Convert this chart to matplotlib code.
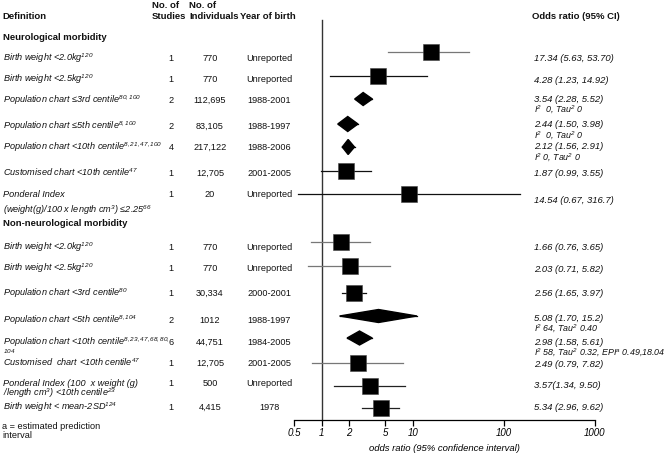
import matplotlib
matplotlib.use('Agg')
import matplotlib.pyplot as plt
from matplotlib.transforms import blended_transform_factory
from matplotlib.patches import Polygon

plt.rcParams['font.family'] = ['Liberation Sans', 'DejaVu Sans']
plt.rcParams['mathtext.fontset'] = 'custom'
plt.rcParams['mathtext.rm'] = 'Liberation Sans:italic'
plt.rcParams['mathtext.it'] = 'Liberation Sans:italic'
plt.rcParams['mathtext.bf'] = 'Liberation Sans:bold'

W, H = 668, 457

# ---------------- data ----------------
section_titles = ["Neurological morbidity", "Non-neurological morbidity"]

definitions = [
    "Birth weight <2.0kg$^{120}$",
    "Birth weight <2.5kg$^{120}$",
    "Population chart ≤3rd centile$^{80,100}$",
    "Population chart ≤5th centile$^{8,100}$",
    "Population chart <10th centile$^{8,21,47,100}$",
    "Customised chart <10th centile$^{47}$",
    "Ponderal Index",
    "Birth weight <2.0kg$^{120}$",
    "Birth weight <2.5kg$^{120}$",
    "Population chart <3rd centile$^{80}$",
    "Population chart <5th centile$^{8,104}$",
    "Population chart <10th centile$^{8,23,47,68,80,}$",
    "Customised  chart <10th centile$^{47}$",
    "Ponderal Index (100  x weight (g)",
    "Birth weight < mean-2SD$^{124}$",
]
definitions_line2 = ["", "", "", "", "", "",
                     "(weight(g)/100 x length cm$^{3}$) ≤2.25$^{66}$",
                     "", "", "", "", "$^{104}$", "",
                     "/length cm$^{3}$) <10th centile$^{23}$", ""]

studies = ["1", "1", "2", "2", "4", "1", "1",
           "1", "1", "1", "2", "6", "1", "1", "1"]
individuals = ["770", "770", "112,695", "83,105", "217,122", "12,705", "20",
               "770", "770", "30,334", "1012", "44,751", "12,705", "500", "4,415"]
years = ["Unreported", "Unreported", "1988-2001", "1988-1997", "1988-2006",
         "2001-2005", "Unreported", "Unreported", "Unreported", "2000-2001",
         "1988-1997", "1984-2005", "2001-2005", "Unreported", "1978"]

or_labels = ["17.34 (5.63, 53.70)", "4.28 (1.23, 14.92)", "3.54 (2.28, 5.52)",
             "2.44 (1.50, 3.98)", "2.12 (1.56, 2.91)", "1.87 (0.99, 3.55)",
             "14.54 (0.67, 316.7)", "1.66 (0.76, 3.65)", "2.03 (0.71, 5.82)",
             "2.56 (1.65, 3.97)", "5.08 (1.70, 15.2)", "2.98 (1.58, 5.61)",
             "2.49 (0.79, 7.82)", "3.57(1.34, 9.50)", "5.34 (2.96, 9.62)"]
het_labels = ["", "", "I$^{2}$  0, Tau$^{2}$ 0", "I$^{2}$  0, Tau$^{2}$ 0",
              "I$^{2}$ 0, Tau$^{2}$ 0", "", "", "", "", "",
              "I$^{2}$ 64, Tau$^{2}$ 0.40",
              "I$^{2}$ 58, Tau$^{2}$ 0.32, EPI$^{a}$ 0.49,18.04", "", "", ""]

# plotted estimates as drawn in the picture
est = [16.0, 4.2, 2.85, 1.93, 1.95, 1.85, 9.06, 1.61, 2.02, 2.27, 4.2, 2.6, 2.49, 3.35, 4.5]
lo = [5.3, 1.22, 2.3, 1.5, 1.68, 0.99, 0.545, 0.76, 0.71, 1.66, 1.57, 1.9, 0.78, 1.35, 2.75]
hi = [41.4, 14.3, 3.6, 2.5, 2.29, 3.5, 149.6, 3.35, 5.56, 3.08, 11.1, 3.58, 7.9, 8.3, 6.98]
kind = ['sq', 'sq', 'dia', 'dia', 'dia', 'sq', 'sq',
        'sq', 'sq', 'sq', 'dia', 'dia', 'sq', 'sq', 'sq']

xticks = [0.5, 1, 2, 5, 10, 100, 1000]
xticklabels = ["0.5", "1", "2", "5", "10", "100", "1000"]
xlabel = "odds ratio (95% confidence interval)"
footnote = "a = estimated prediction\ninterval"

# ---------------- layout (pixel rows) ----------------
y_sections = [37, 223]
y_row = [58, 79, 100, 126, 147, 173, 194, 247, 268, 293, 320, 342, 363, 383, 407]
y_line2 = [0, 0, 0, 0, 0, 0, 210, 0, 0, 0, 0, 352, 0, 393.5, 0]
y_mark = [52, 76, 99, 124, 147, 171, 194, 242, 266, 293, 316, 338, 363, 386, 408]
y_or = [58, 80, 99, 124, 146, 173, 200, 247, 269, 293, 318, 342, 364, 385, 407]
y_het = [0, 0, 110, 136, 158, 0, 0, 0, 0, 0, 329, 353, 0, 0, 0]
dia_h = [0, 0, 13, 15, 15, 0, 0, 0, 0, 0, 13, 14, 0, 0, 0]
ci_col = ['#777777', '#111111', 'k', 'k', 'k', '#111111', '#111111',
          '#777777', '#777777', '#111111', 'k', 'k', '#777777', '#222222', '#222222']

ax_left, ax_right, ax_bottom = 294.3, 595.0, 420.0

fig = plt.figure(figsize=(W / 100, H / 100), dpi=100)
ax = fig.add_axes([ax_left / W, (H - ax_bottom) / H,
                   (ax_right - ax_left) / W, ax_bottom / H])
ax.set_xscale('log')
ax.set_xlim(0.5, 1000)
ax.set_ylim(ax_bottom, 0)
for s in ['left', 'right', 'top']:
    ax.spines[s].set_visible(False)
ax.spines['bottom'].set_linewidth(0.9)
ax.yaxis.set_visible(False)
ax.set_xticks(xticks)
ax.set_xticklabels(xticklabels, fontstyle='italic', fontsize=7.0)
ax.xaxis.set_minor_locator(matplotlib.ticker.NullLocator())
ax.tick_params(axis='x', length=4, width=0.9, pad=2)
ax.set_xlabel(xlabel, fontstyle='italic', fontsize=6.8, labelpad=4)
ax.patch.set_alpha(0)

# reference line at OR = 1
ax.plot([1, 1], [20, ax_bottom], color='#333333', lw=1.0, clip_on=False)

for i in range(len(est)):
    ax.plot([lo[i], hi[i]], [y_mark[i], y_mark[i]], color=ci_col[i], lw=0.9,
            clip_on=False, zorder=2)
    if kind[i] == 'sq':
        ax.plot([est[i]], [y_mark[i]], marker='s', ms=11.3, color='black',
                mec='#444444', mew=0.4, clip_on=False, zorder=3)
    else:
        h = dia_h[i] / 2
        poly = Polygon([(lo[i], y_mark[i]), (est[i], y_mark[i] - h),
                        (hi[i], y_mark[i]), (est[i], y_mark[i] + h)],
                       closed=True, color='black', zorder=3, clip_on=False)
        ax.add_patch(poly)

tr = blended_transform_factory(fig.transFigure, ax.transData)
def px(x):
    return x / W

body = dict(fontsize=6.6, color='#111111', transform=tr, va='baseline')
right = dict(fontsize=6.8, color='#111111', transform=tr, va='baseline')
hetst = dict(fontsize=6.4, color='#111111', transform=tr, va='baseline')
off = 3.0

# headers
hdr = dict(fontsize=6.8, fontweight='bold', color='#111111', transform=tr, va='baseline')
fig.text(px(2), 16 + off, "Definition", **hdr)
fig.text(px(152), 5 + off, "No. of", **hdr)
fig.text(px(152), 16 + off, "Studies", **hdr)
fig.text(px(189), 5 + off, "No. of", **hdr)
fig.text(px(189), 16 + off, "Individuals", **hdr)
fig.text(px(240), 16 + off, "Year of birth", **hdr)
fig.text(px(532), 16 + off, "Odds ratio (95% CI)", **hdr)
for t, y in zip(section_titles, y_sections):
    fig.text(px(3), y + off, t, **hdr)

for i in range(len(definitions)):
    yr = y_row[i] + off
    fig.text(px(3), yr, definitions[i], fontstyle='italic', **body)
    if definitions_line2[i]:
        fig.text(px(3), y_line2[i] + off, definitions_line2[i], fontstyle='italic', **body)
    fig.text(px(171), yr, studies[i], ha='center', **body)
    fig.text(px(210), yr, individuals[i], ha='center', **body)
    fig.text(px(269), yr, years[i], ha='center', **body)
    fig.text(px(534), y_or[i] + off, or_labels[i], fontstyle='italic', **right)
    if het_labels[i]:
        fig.text(px(534), y_het[i] + off, het_labels[i], fontstyle='italic', **hetst)

fig.text(px(2), 426 + off, footnote.split("\n")[0], **body)
fig.text(px(2), 434.5 + off, footnote.split("\n")[1], **body)

fig.savefig('out.png', dpi=100, facecolor='white')
